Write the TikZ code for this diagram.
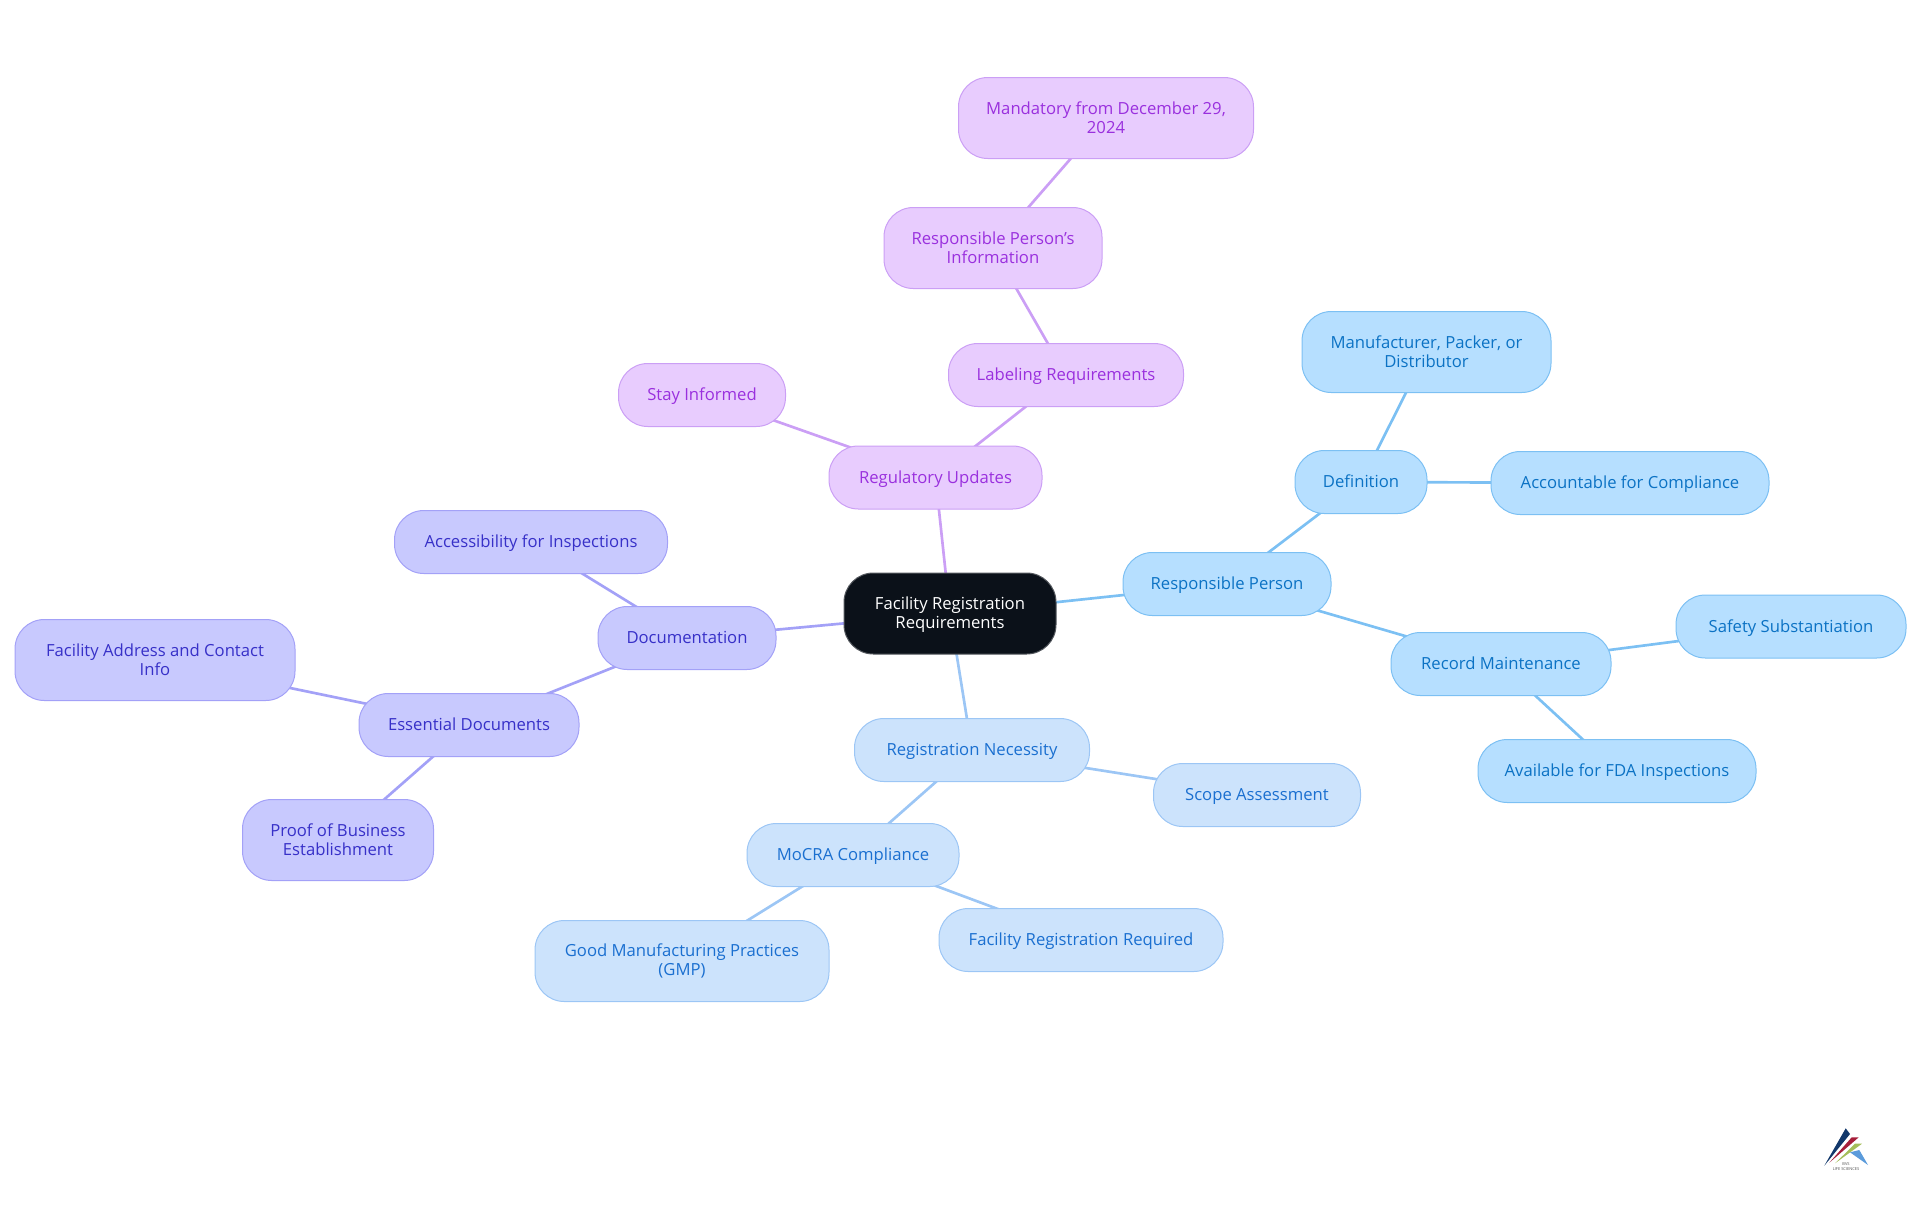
\documentclass[tikz,border=0pt]{standalone}
\usepackage{fontspec}
\setmainfont{Open Sans}
\usetikzlibrary{backgrounds}
\definecolor{rootfill}{HTML}{0B1119}
\definecolor{bluefill}{HTML}{B6DFFF}\definecolor{blueline}{HTML}{7CC0F3}\definecolor{bluetext}{HTML}{0B72C4}
\definecolor{azfill}{HTML}{CCE3FC}\definecolor{azline}{HTML}{9CC6F5}\definecolor{aztext}{HTML}{1A6FD0}
\definecolor{indfill}{HTML}{C8C9FE}\definecolor{indline}{HTML}{A3A1F7}\definecolor{indtext}{HTML}{3730C8}
\definecolor{purfill}{HTML}{E8CCFE}\definecolor{purline}{HTML}{CB9FF5}\definecolor{purtext}{HTML}{9A30DE}
\definecolor{logonavy}{HTML}{12386B}\definecolor{logored}{HTML}{A61E3A}\definecolor{logogreen}{HTML}{A5BE5A}\definecolor{logoblue}{HTML}{5B9BDB}
\tikzset{
  box/.style={rounded corners=22pt,draw,line width=0.75pt,inner sep=0pt,align=center,
    font=\fontsize{12.5}{14}\selectfont,minimum height=47.25pt,text height=10.3pt,text depth=1.9pt},
  tall/.style={minimum height=60.75pt,text height=,text depth=},
  pw/.style={minimum width=#1*0.75pt},
  rootbox/.style={box,fill=rootfill,draw=rootfill!70!white,text=white,tall},
  bluebox/.style={box,fill=bluefill,draw=blueline,text=bluetext},
  azbox/.style={box,fill=azfill,draw=azline,text=aztext},
  indbox/.style={box,fill=indfill,draw=indline,text=indtext},
  purbox/.style={box,fill=purfill,draw=purline,text=purtext},
  link/.style={line width=2pt},
  bluelink/.style={link,draw=blueline},
  azlink/.style={link,draw=azline},
  indlink/.style={link,draw=indline},
  purlink/.style={link,draw=purline}
}
\begin{document}
\begin{tikzpicture}[x=0.75pt,y=-0.75pt]
\useasboundingbox (0,0) rectangle (1920,1215);
\node[rootbox,pw=212] (root) at (950,613.5) {\rule{0pt}{11.5pt}Facility Registration\\Requirements};
% blue
\node[bluebox,pw=208] (resp) at (1227,584) {Responsible Person};
\node[bluebox,pw=132] (def) at (1361,482) {Definition};
\node[bluebox,tall,pw=249] (manu) at (1426.5,352) {Manufacturer, Packer, or\\Distributor};
\node[bluebox,pw=278] (acc) at (1630,483) {Accountable for Compliance};
\node[bluebox,pw=220] (rec) at (1501,664) {Record Maintenance};
\node[bluebox,pw=230] (safe) at (1791,626.5) {Safety Substantiation};
\node[bluebox,pw=278] (avail) at (1617,771) {Available for FDA Inspections};
% light blue
\node[azbox,pw=235] (regn) at (972,750) {Registration Necessity};
\node[azbox,pw=207] (scope) at (1257,795) {Scope Assessment};
\node[azbox,pw=212] (mocra) at (853,855) {MoCRA Compliance};
\node[azbox,tall,pw=294] (gmp) at (682,961) {Good Manufacturing Practices\\(GMP)};
\node[azbox,pw=284] (frr) at (1081,940) {Facility Registration Required};
% indigo
\node[indbox,pw=178] (docu) at (687,638) {Documentation};
\node[indbox,pw=273] (insp) at (531,542) {Accessibility for Inspections};
\node[indbox,pw=220] (ess) at (469,725) {Essential Documents};
\node[indbox,tall,pw=280] (addr) at (155,660) {Facility Address and Contact\\Info};
\node[indbox,tall,pw=191] (proof) at (338,840) {Proof of Business\\Establishment};
% purple
\node[purbox,pw=213] (upd) at (935.5,477.5) {Regulatory Updates};
\node[purbox,pw=235] (lab) at (1066,375) {Labeling Requirements};
\node[purbox,pw=167] (stay) at (702,395) {Stay Informed};
\node[purbox,tall,pw=218] (rpi) at (993,248) {Responsible Person's\\Information};
\node[purbox,tall,pw=295] (mand) at (1106,118) {Mandatory from December 29,\\2024};
\begin{scope}[on background layer]
\draw[bluelink] (root.center) -- (resp.center);
\draw[bluelink] (resp.center) -- (def.center);
\draw[bluelink] (def.center) -- (manu.center);
\draw[bluelink] (def.center) -- (acc.center);
\draw[bluelink] (resp.center) -- (rec.center);
\draw[bluelink] (rec.center) -- (safe.center);
\draw[bluelink] (rec.center) -- (avail.center);
\draw[azlink] (root.center) -- (regn.center);
\draw[azlink] (regn.center) -- (scope.center);
\draw[azlink] (regn.center) -- (mocra.center);
\draw[azlink] (mocra.center) -- (gmp.center);
\draw[azlink] (mocra.center) -- (frr.center);
\draw[indlink] (root.center) -- (docu.center);
\draw[indlink] (docu.center) -- (insp.center);
\draw[indlink] (docu.center) -- (ess.center);
\draw[indlink] (ess.center) -- (addr.center);
\draw[indlink] (ess.center) -- (proof.center);
\draw[purlink] (root.center) -- (upd.center);
\draw[purlink] (upd.center) -- (lab.center);
\draw[purlink] (upd.center) -- (stay.center);
\draw[purlink] (lab.center) -- (rpi.center);
\draw[purlink] (rpi.center) -- (mand.center);
\end{scope}
% logo
\fill[logonavy] (1845.7,1128.3) -- (1850,1134) -- (1824.3,1165.7) -- cycle;
\fill[logored] (1851.7,1137.3) -- (1858.7,1137.3) -- (1829.3,1162.7) -- cycle;
\fill[logogreen] (1855,1143.7) -- (1862,1143.7) -- (1835,1163.3) -- cycle;
\fill[logoblue] (1850,1152.3) -- (1859.3,1150) -- (1868,1165) -- cycle;
\node[font=\fontsize{3}{3.7}\selectfont,text=black!70,inner sep=0pt,align=center] (logotext) at (1846,1166.5) {BVS\\LIFE SCIENCES};
\end{tikzpicture}
\end{document}
